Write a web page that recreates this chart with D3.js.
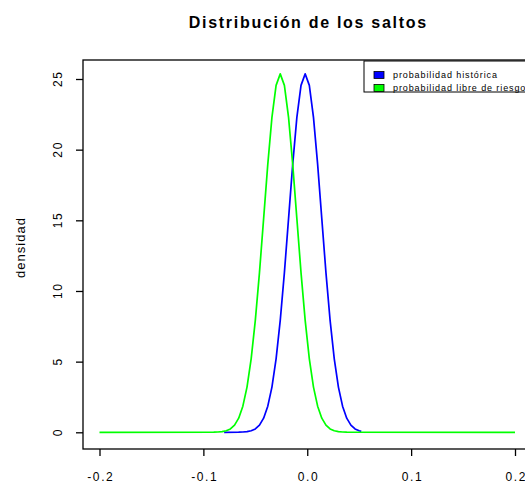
<!DOCTYPE html>
<html>
<head>
<meta charset="utf-8">
<script src="https://cdn.jsdelivr.net/npm/d3@7/dist/d3.min.js"></script>
<style>
  html, body { margin: 0; padding: 0; background: #fff; }
  svg { display: block; }
  text { font-family: "Liberation Sans", Arial, Helvetica, sans-serif; fill: #000; }
</style>
</head>
<body>
<svg id="chart" width="525" height="486"></svg>
<script>
// Density of jump sizes under the historical measure
const histX = [-0.080, -0.066, -0.062, -0.058, -0.054, -0.050, -0.046, -0.042, -0.038, -0.034,
               -0.030, -0.026, -0.022, -0.018, -0.014, -0.010, -0.006, -0.002, 0.002, 0.006,
               0.010, 0.014, 0.018, 0.022, 0.026, 0.030, 0.034, 0.038, 0.042, 0.046, 0.050, 0.052];
const histY = [0, 0.006, 0.02, 0.045, 0.11, 0.24, 0.51, 1.00, 1.85, 3.20,
               5.20, 7.92, 11.30, 15.12, 18.96, 22.28, 24.55, 25.36, 24.55, 22.28,
               18.96, 15.12, 11.30, 7.92, 5.20, 3.20, 1.85, 1.00, 0.51, 0.24, 0.11, 0.07];

// Density of jump sizes under the risk-neutral measure
const rnX = [-0.200, -0.090, -0.086, -0.082, -0.078, -0.074, -0.070, -0.066, -0.062, -0.058,
             -0.054, -0.050, -0.046, -0.042, -0.038, -0.034, -0.030, -0.026, -0.022, -0.018,
             -0.014, -0.010, -0.006, -0.002, 0.002, 0.006, 0.010, 0.014, 0.018, 0.022,
             0.026, 0.030, 0.034, 0.038, 0.200];
const rnY = [0, 0.006, 0.02, 0.045, 0.11, 0.24, 0.51, 1.00, 1.85, 3.20,
             5.20, 7.92, 11.30, 15.12, 18.96, 22.28, 24.55, 25.36, 24.55, 22.28,
             18.96, 15.12, 11.30, 7.92, 5.20, 3.20, 1.85, 1.00, 0.51, 0.24,
             0.11, 0.045, 0.02, 0.006, 0];

const xTicks = [-0.2, -0.1, 0.0, 0.1, 0.2];
const xTickLabels = ["-0.2", "-0.1", "0.0", "0.1", "0.2"];
const yTicks = [0, 5, 10, 15, 20, 25];

const seriesNames = ["probabilidad histórica", "probabilidad libre de riesgo"];
const seriesColors = ["#0000ff", "#00ff00"];

const svg = d3.select("#chart");

const x = d3.scaleLinear().domain([-0.2, 0.2]).range([99.5, 515]);
const y = d3.scaleLinear().domain([0, 25]).range([432.3, 79]);

const tickSpacing = 1.6;

// plot frame
const frame = { left: 83, top: 60, right: 540, bottom: 449 };
svg.append("rect")
  .attr("x", frame.left).attr("y", frame.top)
  .attr("width", frame.right - frame.left).attr("height", frame.bottom - frame.top)
  .attr("fill", "none").attr("stroke", "#000").attr("stroke-width", 1.3);

// x axis
const xAxis = d3.axisBottom(x).tickValues(xTicks)
  .tickFormat((d, i) => xTickLabels[i]).tickSize(7);
const gx = svg.append("g").attr("transform", `translate(0,${frame.bottom})`).call(xAxis);
gx.select(".domain").remove();
gx.selectAll("line").attr("stroke", "#000").attr("stroke-width", 1.3);
gx.selectAll("text")
  .style("font-size", "12px")
  .style("letter-spacing", tickSpacing + "px")
  .attr("y", 32).attr("dy", 0).attr("dx", tickSpacing / 2);

// y axis
const yAxis = d3.axisLeft(y).tickValues(yTicks).tickSize(7);
const gy = svg.append("g").attr("transform", `translate(${frame.left},0)`).call(yAxis);
gy.select(".domain").remove();
gy.selectAll("line").attr("stroke", "#000").attr("stroke-width", 1.3);
gy.selectAll("text")
  .style("font-size", "12px")
  .style("letter-spacing", tickSpacing + "px")
  .attr("x", 0).attr("y", 0)
  .attr("text-anchor", "middle")
  .attr("transform", "translate(-25,0) rotate(-90)")
  .attr("dx", tickSpacing / 2)
  .attr("dy", "0.35em");

// axis title
svg.append("text")
  .attr("transform", "translate(20,248) rotate(-90)")
  .attr("text-anchor", "middle").attr("dy", "0.35em").attr("dx", 0.5)
  .style("font-size", "13px")
  .style("letter-spacing", "1px")
  .text("densidad");

// chart title
svg.append("text")
  .attr("x", 308.3).attr("y", 22).attr("dy", "0.35em")
  .attr("text-anchor", "middle")
  .style("font-size", "16px").style("font-weight", "bold")
  .style("letter-spacing", "1.7px")
  .text("Distribución de los saltos");

// density curves
const line = d3.line().x(d => x(d[0])).y(d => y(d[1]));
const curves = [
  d3.zip(histX, histY),
  d3.zip(rnX, rnY)
];
curves.forEach((pts, i) => {
  svg.append("path")
    .datum(pts)
    .attr("d", line)
    .attr("fill", "none")
    .attr("stroke", seriesColors[i])
    .attr("stroke-width", 1.7)
    .attr("stroke-linejoin", "round");
});

// legend
const lg = svg.append("g");
lg.append("rect")
  .attr("x", 364).attr("y", 61).attr("width", 200).attr("height", 31)
  .attr("fill", "#fff").attr("stroke", "#000").attr("stroke-width", 1);
seriesNames.forEach((name, i) => {
  const cy = 75 + i * 13;
  lg.append("rect")
    .attr("x", 374).attr("y", cy - 3.5).attr("width", 10).attr("height", 7)
    .attr("fill", seriesColors[i]).attr("stroke", "#000").attr("stroke-width", 0.8);
  lg.append("text")
    .attr("x", 393).attr("y", cy).attr("dy", "0.35em")
    .style("font-size", "9px")
    .style("letter-spacing", "0.9px")
    .text(name);
});
</script>
</body>
</html>
